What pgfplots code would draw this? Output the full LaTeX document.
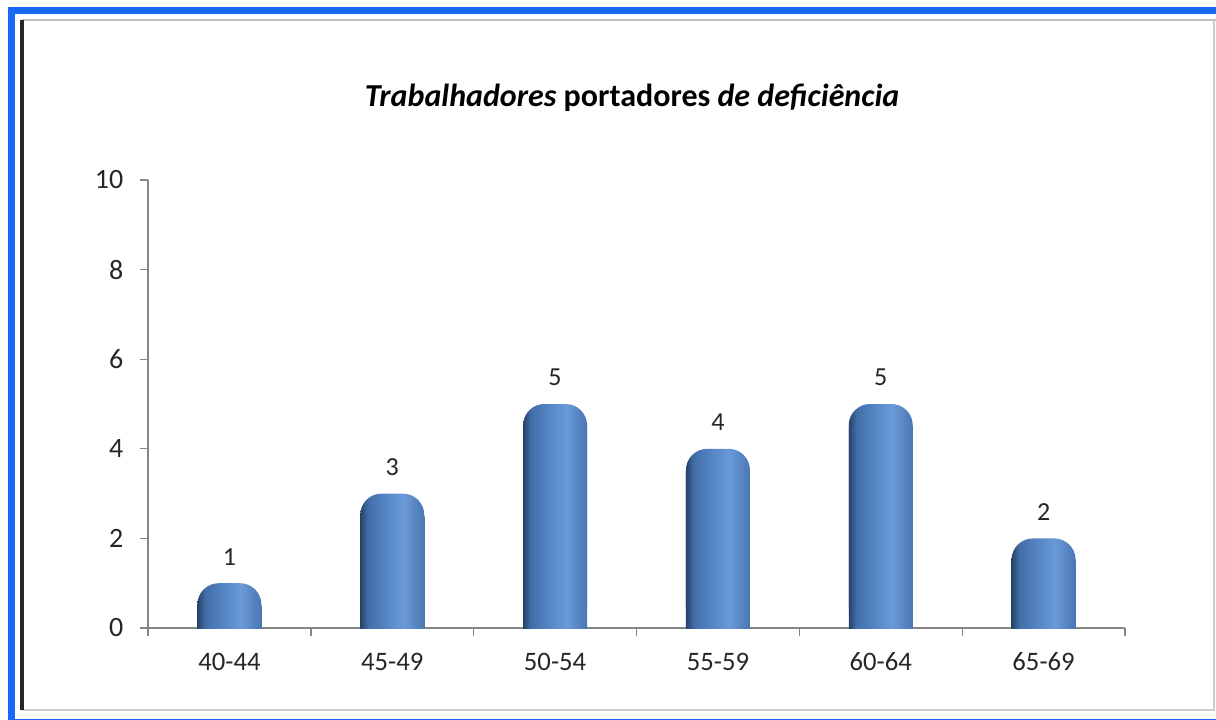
\documentclass[border=0pt]{standalone}
\usepackage{fontspec}
\setmainfont{Carlito}
\usepackage{pgfplots}
\usepackage{pgfplotstable}
\pgfplotsset{compat=1.18}
\definecolor{frameblue}{RGB}{22,104,245}
\definecolor{axgray}{RGB}{134,134,134}
\definecolor{bc1}{RGB}{38,66,104}
\definecolor{bc2}{RGB}{66,110,168}
\definecolor{bc3}{RGB}{82,130,192}
\definecolor{bc4}{RGB}{106,154,216}
\definecolor{bc5}{RGB}{74,118,178}
\pgfdeclarehorizontalshading{barshade}{100bp}{color(0bp)=(bc1); color(25bp)=(bc1); color(31bp)=(bc2); color(43bp)=(bc3); color(59bp)=(bc4); color(75bp)=(bc5); color(100bp)=(bc5)}
\pgfplotstableread{
idx n
0 1
1 3
2 5
3 4
4 5
5 2
}\datatab
\begin{document}
\begin{tikzpicture}
\begin{scope}[x=0.75pt,y=0.75pt]
\path[use as bounding box] (0,0) rectangle (1216,719);
% frames
\draw[line width=5.25pt, frameblue] (11.5,708) rectangle (1225,-3);
\draw[line width=1.5pt, black!25] (22,699) -- (1216,699);
\draw[line width=1.5pt, black!20] (22,9) -- (1214,9) -- (1214,699);
\draw[line width=2.5pt, black!85] (22,699) -- (22,9);
% title
\node[font=\fontsize{24}{29}\selectfont\bfseries] at (632,621) {\textit{Trabalhadores} portadores \textit{de deficiência}};
\end{scope}
\begin{axis}[
  at={(111pt,68.25pt)}, anchor=south west,
  scale only axis, width=732.75pt, height=336pt,
  xmin=-0.5, xmax=5.5, ymin=0, ymax=10,
  ytick={0,2,...,10},
  xtick={-0.5,0.5,...,5.5},
  xticklabels={},
  extra x ticks={0,...,5},
  extra x tick labels={40-44,45-49,50-54,55-59,60-64,65-69},
  extra x tick style={major tick length=0pt, tick style={draw=none}},
  axis x line*=bottom, axis y line*=left,
  axis line style={axgray, line width=1pt},
  every tick/.style={axgray, line width=1pt},
  tick align=outside,
  major tick length=6pt,
  /pgf/number format/assume math mode=true,
  xticklabel style={font=\fontsize{20}{24}\selectfont, text=black!85, yshift=-15pt},
  yticklabel style={font=\fontsize{21}{25}\selectfont, text=black!85, xshift=-9pt},
  clip=false,
]
\pgfplotsinvokeforeach{0,...,5}{
\addplot[ybar, bar width=48pt, bar shift=0pt, draw=none, shading=barshade, rounded corners=16pt,
  x filter/.expression={abs(x-#1)<0.1 ? x : nan},
  nodes near coords, every node near coord/.append style={font=\fontsize{19.5}{23}\selectfont, text=black!85, yshift=10pt}]
  table[x=idx, y=n] {\datatab};
\addplot[ybar, bar width=48pt, bar shift=0pt, draw=none, shading=barshade,
  x filter/.expression={abs(x-#1)<0.1 ? x : nan}]
  table[x=idx, y expr=\thisrow{n}-0.5] {\datatab};
}
\end{axis}
\end{tikzpicture}
\end{document}
